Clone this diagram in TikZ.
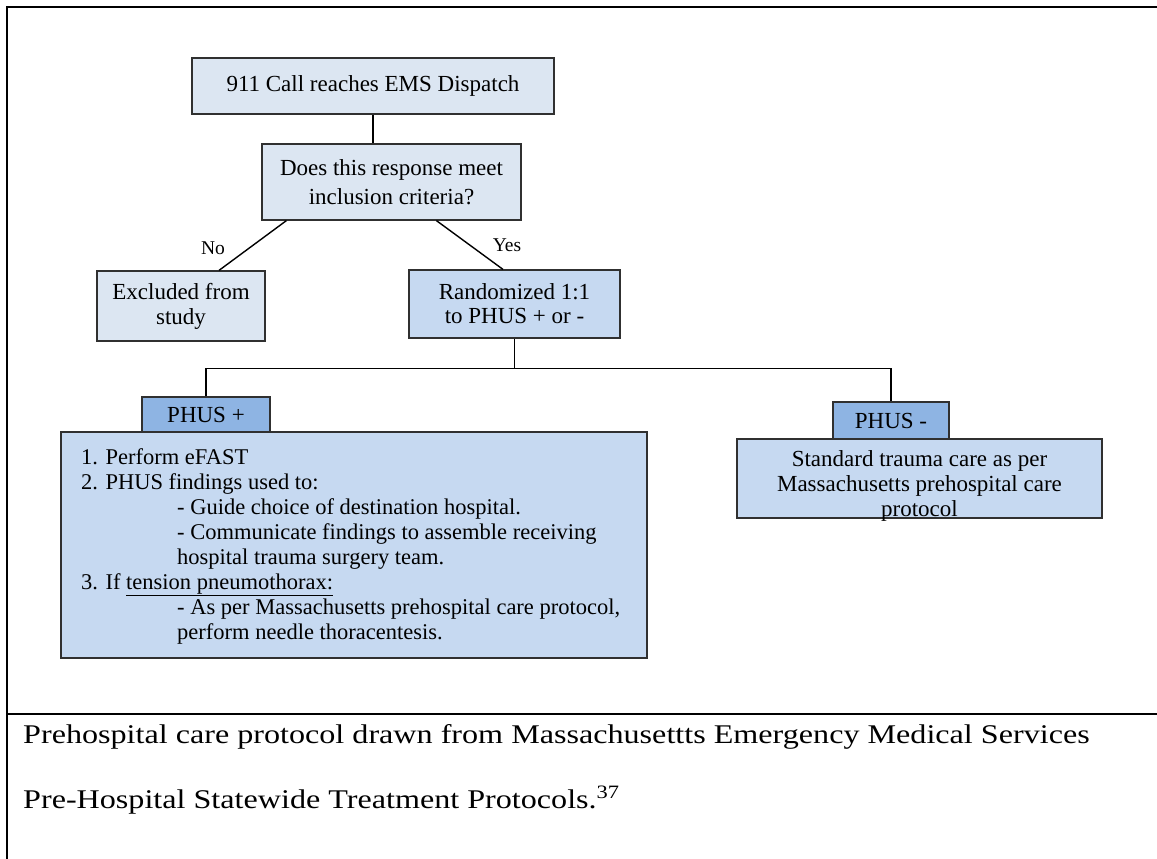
\documentclass[tikz,border=0pt]{standalone}
\usepackage{fontspec}
\setmainfont{Liberation Serif}
\newfontfamily\capfont[FakeStretch=1.19]{Liberation Serif}
\definecolor{paleblue}{HTML}{DCE6F2}
\definecolor{midblue}{HTML}{C6D9F1}
\definecolor{deepblue}{HTML}{8EB4E3}
\definecolor{edgegray}{HTML}{303030}
\begin{document}
\begin{tikzpicture}[x=1pt,y=-1pt,
  boxbase/.style={draw=edgegray, line width=1.2pt, inner sep=0pt, align=center, font=\fontsize{23}{25}\selectfont},
  palebox/.style={boxbase, fill=paleblue},
  midbox/.style={boxbase, fill=midblue},
  deepbox/.style={boxbase, fill=deepblue},
  conn/.style={draw=black, line width=1.4pt},
  lbl/.style={inner sep=0pt, font=\fontsize{19.5}{22}\selectfont}]
\useasboundingbox (0,0) rectangle (1157,859);
\fill[white] (0,0) rectangle (1157,859);

% frame
\draw[line width=2.8pt, line join=miter] (7,859) -- (7,7) -- (1157,7);
\draw[line width=2.8pt] (7,714) -- (1157,714);

% boxes
\node[palebox, minimum width=362pt, minimum height=56pt] (call) at (373,86) {911 Call reaches EMS Dispatch};
\node[palebox, minimum width=259pt, minimum height=76pt, font=\fontsize{23}{29}\selectfont] (crit) at (391.5,182) {Does this response meet\\inclusion criteria?};
\node[palebox, minimum width=168pt, minimum height=70pt] (excl) at (181,306) {Excluded from\\study};
\node[midbox, minimum width=211pt, minimum height=68pt, font=\fontsize{23}{24}\selectfont] (rand) at (514.5,304) {Randomized 1:1\\to PHUS + or -};
\node[midbox, minimum width=586pt, minimum height=226pt] (plan) at (354,545) {};
\node[midbox, minimum width=365pt, minimum height=79pt] (std) at (919.5,478.5) {};
\node[deepbox, minimum width=128pt, minimum height=35pt] (phusp) at (206,414.5) {PHUS +};
\node[deepbox, minimum width=116pt, minimum height=37pt] (phusm) at (891,420.5) {PHUS -};

% box texts
\node[inner sep=0pt, align=center, font=\fontsize{23}{25}\selectfont] (stdtext) at (919.5,486) {Standard trauma care as per\\Massachusetts prehospital care\\protocol};
\node[anchor=base west, inner sep=0pt] (plantext) at (81,464) {\begin{minipage}[t]{560pt}\fontsize{22.5}{25}\selectfont
1. Perform eFAST\\
2. PHUS findings used to:\\
\hspace*{96pt}- Guide choice of destination hospital.\\
\hspace*{96pt}- Communicate findings to assemble receiving\\
\hspace*{96pt}hospital trauma surgery team.\\
3. If \underline{tension pneumothorax:}\\
\hspace*{96pt}- As per Massachusetts prehospital care protocol,\\
\hspace*{96pt}perform needle thoracentesis.
\end{minipage}};

% connectors
\draw[conn] (call.south) -- (call.south |- crit.north);
\draw[conn] ([xshift=25pt]crit.south west) -- ([xshift=38pt]excl.north);
\draw[conn] ([xshift=175pt]crit.south west) -- ([xshift=-11.5pt]rand.north);
\draw[conn] (rand.south) -- ++(0,30) coordinate (split);
\draw[conn] (phusp.north) |- (split) -| (phusm.north);

% labels
\node[lbl] (nolab) at (213,248) {No};
\node[lbl] (yeslab) at (507,245.5) {Yes};

% caption
\node[anchor=base west, inner sep=0pt, font=\capfont\fontsize{27}{30}\selectfont] (cap1) at (23,743) {Prehospital care protocol drawn from Massachusettts Emergency Medical Services};
\node[anchor=base west, inner sep=0pt, font=\capfont\fontsize{27}{30}\selectfont] (cap2) at (23,808) {Pre-Hospital Statewide Treatment Protocols.\textsuperscript{37}};
\end{tikzpicture}
\end{document}
